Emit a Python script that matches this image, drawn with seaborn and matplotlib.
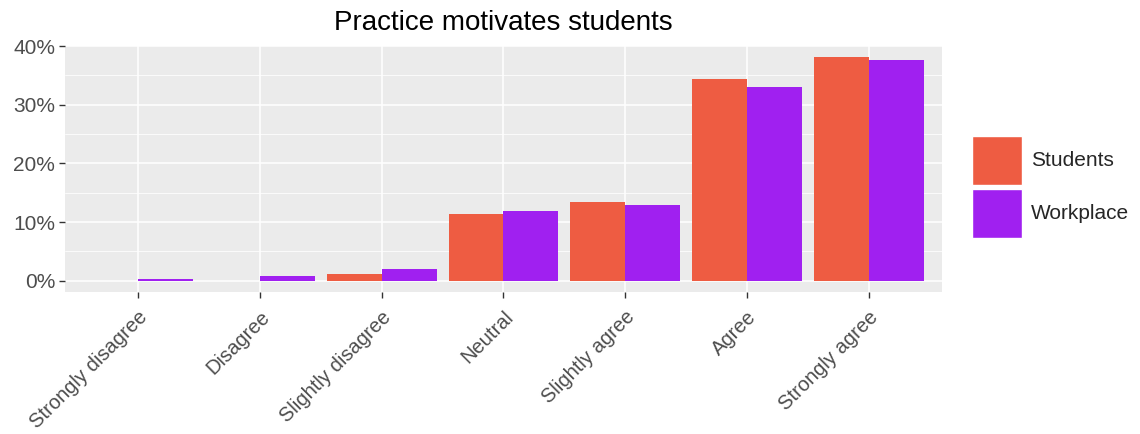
import matplotlib
matplotlib.use("Agg")
import matplotlib.pyplot as plt
import matplotlib.ticker as mticker
from matplotlib.patches import Patch
import seaborn as sns
import pandas as pd

categories = ["Strongly disagree", "Disagree", "Slightly disagree", "Neutral",
              "Slightly agree", "Agree", "Strongly agree"]
students = [0.0, 0.0, 1.2, 11.4, 13.4, 34.4, 38.1]
workplace = [0.3, 0.85, 2.0, 11.9, 12.9, 33.1, 37.6]
groups = ["Students", "Workplace"]
colors = {"Students": "#EE5C42", "Workplace": "#A020F0"}

df = pd.DataFrame({
    "response": categories * 2,
    "group": ["Students"] * len(categories) + ["Workplace"] * len(categories),
    "pct": students + workplace,
})

sns.set_theme(style="darkgrid")
plt.rcParams['font.family'] = ['Liberation Sans', 'DejaVu Sans']

fig = plt.figure(figsize=(11.4, 4.34), dpi=100)
ax = fig.add_axes([65/1140, 1 - 292/434, (942-65)/1140, (292-46)/434])
ax.set_facecolor("#EBEBEB")

sns.barplot(data=df, x="response", y="pct", hue="group", order=categories,
            hue_order=groups, palette=colors, width=0.9, gap=0,
            saturation=1, linewidth=0, ax=ax, legend=False)

ax.set_xlim(-0.6, len(categories) - 1 + 0.6)
ax.set_ylim(-1.9, 40.0)
ax.yaxis.set_major_locator(mticker.MultipleLocator(10))
ax.yaxis.set_minor_locator(mticker.MultipleLocator(5))
ax.yaxis.set_major_formatter(mticker.PercentFormatter(decimals=0))
ax.grid(which="major", color="white", linewidth=1.1)
ax.grid(which="minor", axis="y", color="white", linewidth=0.55)
ax.set_axisbelow(True)
for s in ax.spines.values():
    s.set_visible(False)
ax.tick_params(axis="both", which="major", length=4, width=1, color="#333333",
               labelcolor="#4D4D4D", labelsize=15, pad=3, left=True, bottom=True)
ax.tick_params(axis="x", which="major", labelsize=14.5, pad=7)
ax.tick_params(axis="y", which="minor", length=0)
ax.set_xlabel("")
ax.set_ylabel("")
for lab in ax.get_xticklabels():
    lab.set_rotation(45)
    lab.set_ha("right")
    lab.set_va("top")
    lab.set_rotation_mode("anchor")

fig.text((65 + 942) / 2 / 1140, 1 - 23/434, "Practice motivates students",
         ha="center", va="center", fontsize=20, color="black")

handles = [Patch(facecolor=colors[g], edgecolor="white", linewidth=1) for g in groups]
fig.legend(handles, groups, loc="center left", bbox_to_anchor=(972/1140, 1 - 187/434),
           frameon=False, fontsize=15, handlelength=2.4, handleheight=3.3,
           labelspacing=0.15, handletextpad=0.43, borderaxespad=0, borderpad=0)

fig.savefig("out.png", dpi=100)
